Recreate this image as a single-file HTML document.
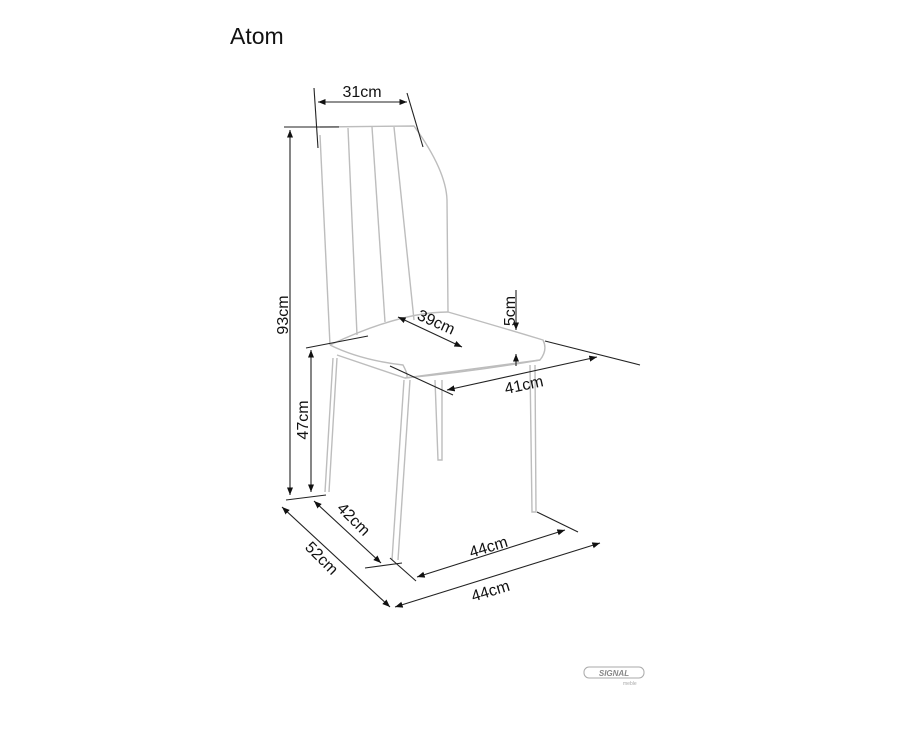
<!DOCTYPE html>
<html><head><style>
body{margin:0;background:#fff;width:900px;height:729px;overflow:hidden}
svg{display:block}
text{font-family:"Liberation Sans",sans-serif;fill:#111}
</style></head><body>
<svg width="900" height="729" viewBox="0 0 900 729" xmlns="http://www.w3.org/2000/svg">
<defs>
<marker id="a" viewBox="0 0 10 10" refX="10" refY="5" markerWidth="7" markerHeight="7" orient="auto-start-reverse"><path d="M0,1 L10,5 L0,9 z" fill="#111"/></marker>
</defs>
<text x="230" y="44" font-size="23">Atom</text>
<g fill="none" stroke="#bdbdbd" stroke-width="1.4">
<path d="M320,127 L414,126 Q446,170 447,200 L448,312"/>
<path d="M320,135 L330,345"/>
<path d="M348,128 L357,335"/><path d="M372,127 L385,322"/><path d="M394,127 L414,320"/>
<path d="M330,345 Q360,360 403,365 Q410,378 405,378 Q470,372 540,360 Q548,350 543,340 Q500,327 448,312 Q400,312 330,345"/>
<path d="M337,355 L405,378 L540,360"/>
<path d="M333,358 L325,492 M337,358 L329,492"/>
<path d="M404,380 L392,560 M410,380 L398,560"/>
<path d="M435,380 L438,460 L442,460 L442,380"/>
<path d="M530,365 L532,512 L536,512 L535,365"/>
</g>
<g stroke="#222" stroke-width="1.1" fill="none">
<line x1="314" y1="88" x2="318" y2="148"/><line x1="407" y1="93" x2="423" y2="147"/>
<line x1="318" y1="102" x2="407" y2="102" marker-start="url(#a)" marker-end="url(#a)"/>
<line x1="284" y1="127" x2="339" y2="127"/>
<line x1="290" y1="130" x2="290" y2="495" marker-start="url(#a)" marker-end="url(#a)"/>
<line x1="306" y1="348" x2="368" y2="336"/>
<line x1="311" y1="350" x2="311" y2="492" marker-start="url(#a)" marker-end="url(#a)"/>
<line x1="286" y1="500" x2="326" y2="495"/>
<line x1="398" y1="317" x2="462" y2="347" marker-start="url(#a)" marker-end="url(#a)"/>
<line x1="516" y1="290" x2="516" y2="330" marker-end="url(#a)"/>
<line x1="516" y1="366" x2="516" y2="354" marker-end="url(#a)"/>
<line x1="390" y1="366" x2="453" y2="395"/><line x1="545" y1="341" x2="640" y2="365"/>
<line x1="447" y1="390" x2="597" y2="357" marker-start="url(#a)" marker-end="url(#a)"/>
<line x1="282" y1="507" x2="390" y2="607" marker-start="url(#a)" marker-end="url(#a)"/>
<line x1="314" y1="501" x2="381" y2="563" marker-start="url(#a)" marker-end="url(#a)"/>
<line x1="365" y1="568" x2="402" y2="563"/><line x1="390" y1="558" x2="416" y2="581"/>
<line x1="537" y1="512" x2="578" y2="532"/>
<line x1="417" y1="577" x2="565" y2="530" marker-start="url(#a)" marker-end="url(#a)"/>
<line x1="395" y1="607" x2="600" y2="543" marker-start="url(#a)" marker-end="url(#a)"/>
</g>
<g font-size="16">
<text x="362" y="97" text-anchor="middle">31cm</text>
<text transform="translate(288,315) rotate(-90)" text-anchor="middle">93cm</text>
<text transform="translate(308,420) rotate(-90)" text-anchor="middle">47cm</text>
<text transform="translate(515,311) rotate(-90)" text-anchor="middle">5cm</text>
<text transform="translate(434,327) rotate(24)" text-anchor="middle">39cm</text>
<text transform="translate(525,390) rotate(-12)" text-anchor="middle">41cm</text>
<text transform="translate(350,523) rotate(45)" text-anchor="middle">42cm</text>
<text transform="translate(318,562) rotate(45)" text-anchor="middle">52cm</text>
<text transform="translate(490,552) rotate(-17)" text-anchor="middle">44cm</text>
<text transform="translate(492,596) rotate(-17)" text-anchor="middle">44cm</text>
</g>
<rect x="584" y="667" width="60" height="11" rx="5" fill="none" stroke="#aaa" stroke-width="1"/>
<text x="614" y="676" font-size="8" font-weight="bold" font-style="italic" text-anchor="middle" style="fill:#888">SIGNAL</text>
<text x="623" y="685" font-size="5" style="fill:#aaa">meble</text>
</svg>
</body></html>
